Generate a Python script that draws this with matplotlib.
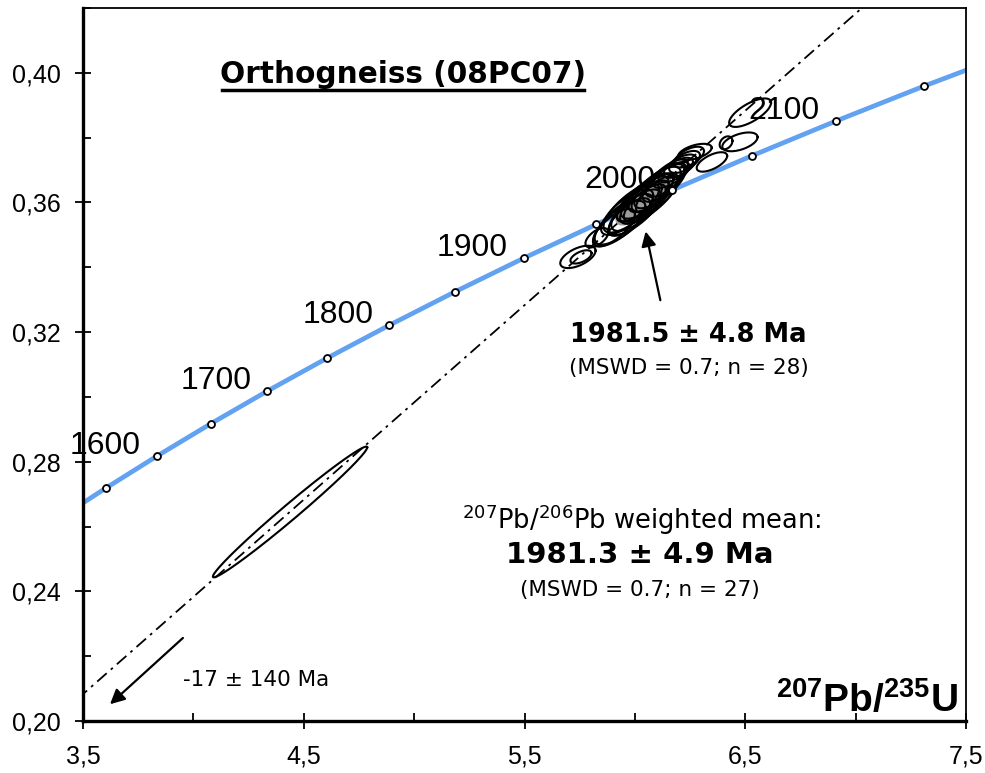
import numpy as np
import matplotlib
matplotlib.use("Agg")
import matplotlib.pyplot as plt
from matplotlib.lines import Line2D
from matplotlib.ticker import FuncFormatter, MultipleLocator

plt.rcParams['mathtext.fontset'] = 'custom'
plt.rcParams['mathtext.rm'] = 'DejaVu Sans'
plt.rcParams['mathtext.bf'] = 'Liberation Sans:bold'

# ---------------- data ----------------
# concordia reference points (age in Ma, 207Pb/235U, 206Pb/238U)
conc_age = [1500, 1550, 1600, 1650, 1700, 1750, 1800, 1850, 1900, 1950, 2000, 2050, 2100, 2150, 2200]
conc_x = [3.381, 3.602, 3.834, 4.078, 4.335, 4.604, 4.887, 5.184, 5.496, 5.824, 6.168, 6.530, 6.910, 7.310, 7.729]
conc_y = [0.2620, 0.2718, 0.2817, 0.2917, 0.3018, 0.3119, 0.3221, 0.3324, 0.3428, 0.3532, 0.3638, 0.3744, 0.3851, 0.3959, 0.4067]
marker_ages = [1550, 1600, 1650, 1700, 1750, 1800, 1850, 1900, 1950, 2000, 2050, 2100, 2150]
label_ages = [1600, 1700, 1800, 1900, 2000, 2100]

# discordia line end points
disc_x = [3.0, 7.5]
disc_y = [0.1783, 0.4483]

# analyses: 207Pb/235U, 206Pb/238U, sigma x, sigma y, rho
ell_x = [4.438, 5.742, 5.756, 5.828,
         5.905, 5.930, 5.950, 5.965, 5.975, 5.990, 6.000, 6.015, 6.025, 6.035,
         6.045, 6.055, 6.065, 6.080, 6.090, 6.100, 6.115, 6.130, 6.145, 6.165,
         6.185, 6.205, 6.225, 6.245,
         6.272, 6.349, 6.413, 6.476, 6.522]
ell_y = [0.2645, 0.3432, 0.3432, 0.3491,
         0.3522, 0.3535, 0.3548, 0.3570, 0.3555, 0.3585, 0.3570, 0.3600, 0.3590, 0.3610,
         0.3598, 0.3620, 0.3612, 0.3630, 0.3640, 0.3625, 0.3652, 0.3660, 0.3675, 0.3685,
         0.3700, 0.3712, 0.3725, 0.3740,
         0.3756, 0.3725, 0.3784, 0.3787, 0.3877]
ell_sx = [0.3496, 0.080, 0.048, 0.052,
          0.095, 0.118, 0.132, 0.118, 0.095, 0.132, 0.118, 0.095, 0.132, 0.118,
          0.095, 0.118, 0.132, 0.095, 0.118, 0.095, 0.118, 0.095, 0.095, 0.082,
          0.078, 0.074, 0.070, 0.068,
          0.0760, 0.0690, 0.029, 0.0800, 0.095]
ell_sy = [0.02017, 0.00345, 0.00205, 0.00300,
          0.0058, 0.0070, 0.0078, 0.0070, 0.0058, 0.0078, 0.0070, 0.0058, 0.0078, 0.0070,
          0.0058, 0.0070, 0.0078, 0.0058, 0.0070, 0.0058, 0.0070, 0.0058, 0.0058, 0.0040,
          0.0038, 0.0036, 0.0034, 0.0032,
          0.00250, 0.00300, 0.0020, 0.00290, 0.00440]
ell_rho = [0.988, 0.56, 0.55, 0.58,
           0.72, 0.74, 0.76, 0.74, 0.72, 0.76, 0.74, 0.72, 0.76, 0.74,
           0.72, 0.74, 0.76, 0.72, 0.74, 0.72, 0.74, 0.72, 0.72, 0.68,
           0.66, 0.62, 0.60, 0.58,
           0.52, 0.62, 0.30, 0.50, 0.70]

# concordia age ellipse (grey)
mean_x, mean_y, mean_sx, mean_sy, mean_rho = 6.040, 0.3605, 0.125, 0.0074, 0.76

x_ticks = [3.5, 4.5, 5.5, 6.5, 7.5]
y_ticks = [0.20, 0.24, 0.28, 0.32, 0.36, 0.40]

# ---------------- figure ----------------
fig = plt.figure(figsize=(9.85, 7.73), dpi=100)
ax = fig.add_axes([83/985, 52/773, (966-83)/985, (721-8)/773])
ax.set_xlim(3.5, 7.5)
ax.set_ylim(0.20, 0.42)

def ellipse_pts(x, y, sx, sy, rho, n=140):
    t = np.linspace(0, 2*np.pi, n)
    ex = x + sx*np.cos(t)
    ey = y + sy*(rho*np.cos(t) + np.sqrt(1-rho**2)*np.sin(t))
    return ex, ey

# concordia
ax.plot(conc_x, conc_y, color='#62a2f0', lw=3.4, solid_capstyle='butt', zorder=2)
mk = [conc_age.index(a) for a in marker_ages]
ax.plot([conc_x[i] for i in mk], [conc_y[i] for i in mk], 'o', ms=5, mfc='white',
        mec='black', mew=1.3, zorder=5)
for a in label_ages:
    i = conc_age.index(a)
    ax.annotate(str(a), (conc_x[i], conc_y[i]), xytext=(-11.5, 1.5), textcoords='offset points',
                ha='right', va='baseline', fontsize=23, family='Liberation Sans', zorder=6,
                annotation_clip=False)

# discordia
ax.plot(disc_x, disc_y, color='black', lw=1.3, linestyle=(0, (7, 3, 1.5, 3)), zorder=3)

# grey mean ellipse
gx, gy = ellipse_pts(mean_x, mean_y, mean_sx, mean_sy, mean_rho)
ax.fill(gx, gy, color='#9c9c9c', zorder=3)

for x, y, sx, sy, r in zip(ell_x, ell_y, ell_sx, ell_sy, ell_rho):
    ex, ey = ellipse_pts(x, y, sx, sy, r)
    ax.plot(ex, ey, color='black', lw=1.5, zorder=4)

# arrows
ax.annotate('', xy=(6.046, 0.3519), xytext=(6.118, 0.3290),
            arrowprops=dict(arrowstyle='-|>', color='black', lw=1.6, mutation_scale=22), zorder=6)
ax.annotate('', xy=(3.613, 0.2046), xytext=(3.962, 0.2262),
            arrowprops=dict(arrowstyle='-|>', color='black', lw=1.6, mutation_scale=22), zorder=6)

# texts
title = ax.text(4.950, 0.3994, 'Orthogneiss (08PC07)', ha='center', va='center',
                fontsize=21.3, fontweight='bold', family='DejaVu Sans')
ax.text(6.241, 0.3191, '1981.5 ± 4.8 Ma', ha='center', va='center', fontsize=18.5,
        fontweight='bold', family='DejaVu Sans')
ax.text(6.245, 0.3090, '(MSWD = 0.7; n = 28)', ha='center', va='center', fontsize=15.5,
        family='DejaVu Sans')
ax.text(6.030, 0.2620, r'$^{207}$Pb/$^{206}$Pb weighted mean:', ha='center', va='center',
        fontsize=18.5, family='DejaVu Sans')
ax.text(6.023, 0.2512, '1981.3 ± 4.9 Ma', ha='center', va='center', fontsize=21,
        fontweight='bold', family='DejaVu Sans')
ax.text(6.023, 0.2404, '(MSWD = 0.7; n = 27)', ha='center', va='center', fontsize=15.5,
        family='DejaVu Sans')
ax.text(4.284, 0.2127, '-17 ± 140 Ma', ha='center', va='center', fontsize=15.5,
        family='DejaVu Sans')
ax.text(7.464, 0.2028, r'$^{\mathbf{207}}\mathbf{Pb/}^{\mathbf{235}}\mathbf{U}$', ha='right',
        va='baseline', fontsize=28)

# axes styling
for s in ['left', 'bottom']:
    ax.spines[s].set_linewidth(2.4)
for s in ['top', 'right']:
    ax.spines[s].set_linewidth(1.3)
ax.set_xticks(x_ticks)
ax.set_yticks(y_ticks)
ax.xaxis.set_minor_locator(MultipleLocator(0.5))
ax.yaxis.set_minor_locator(MultipleLocator(0.02))
ax.xaxis.set_major_formatter(FuncFormatter(lambda v, p: f'{v:.1f}'.replace('.', ',')))
ax.yaxis.set_major_formatter(FuncFormatter(lambda v, p: f'{v:.2f}'.replace('.', ',')))
ax.tick_params(which='major', direction='inout', length=12, width=1.3, labelsize=18, pad=10)
ax.tick_params(which='minor', direction='in', length=6, width=1.3)
ax.tick_params(axis='x', which='major', pad=11)
for lab in ax.get_xticklabels() + ax.get_yticklabels():
    lab.set_family('Liberation Sans')

# underline for the title
fig.canvas.draw()
bb = title.get_window_extent()
fig.add_artist(Line2D([bb.x0 + 2, bb.x1 - 2], [bb.y0 - 1, bb.y0 - 1], color='black', lw=2.5,
                      transform=None))

fig.savefig('out.png', dpi=100)
